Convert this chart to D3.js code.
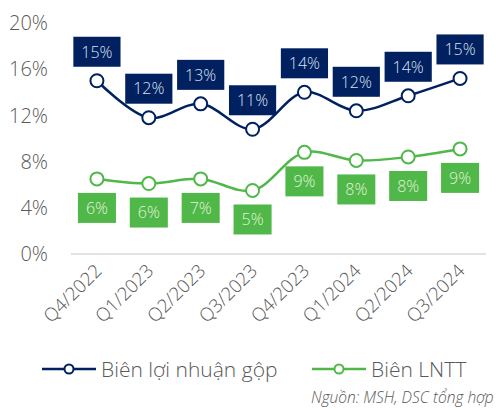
<!DOCTYPE html>
<html>
<head>
<meta charset="utf-8">
<script src="https://cdn.jsdelivr.net/npm/d3@7"></script>
<style>
  body { margin: 0; background: #fff; }
  #chart { width: 496px; height: 411px; }
  text { font-family: 'Open Sans', 'Noto Sans', sans-serif; font-weight: 300; }
</style>
</head>
<body>
<div id="chart"></div>
<script>
const quarters = ['Q4/2022', 'Q1/2023', 'Q2/2023', 'Q3/2023', 'Q4/2023', 'Q1/2024', 'Q2/2024', 'Q3/2024'];
const grossMargin = [15.0, 11.8, 13.0, 10.8, 14.0, 12.4, 13.7, 15.2];
const pretaxMargin = [6.5, 6.1, 6.5, 5.5, 8.8, 8.1, 8.4, 9.1];
const grossLabels = ['15%', '12%', '13%', '11%', '14%', '12%', '14%', '15%'];
const pretaxLabels = ['6%', '6%', '7%', '5%', '9%', '8%', '8%', '9%'];
const yTicks = [0, 4, 8, 12, 16, 20];

const series = [
  { name: 'Biên lợi nhuận gộp', values: grossMargin, labels: grossLabels, color: '#002060', textColor: '#dde2ef', above: true },
  { name: 'Biên LNTT', values: pretaxMargin, labels: pretaxLabels, color: '#50b848', textColor: '#e4f2dc', above: false }
];

const width = 496, height = 411;
const svg = d3.select('#chart').append('svg').attr('width', width).attr('height', height);

const xScale = d3.scaleBand().domain(quarters).range([71, 486]);
const yScale = d3.scaleLinear().domain([0, 20]).range([254, 23]);

// y labels
svg.append('g').selectAll('text').data(yTicks).join('text')
  .attr('x', 48)
  .attr('y', d => yScale(d))
  .attr('dy', '0.36em')
  .attr('text-anchor', 'end')
  .attr('font-size', 20)
  .attr('fill', '#595959')
  .text(d => d + '%');

// baseline
svg.append('line')
  .attr('x1', xScale.range()[0]).attr('x2', xScale.range()[1])
  .attr('y1', yScale(0)).attr('y2', yScale(0))
  .attr('stroke', '#d9d9d9').attr('stroke-width', 1.5);

// x labels rotated
svg.append('g').selectAll('text').data(quarters).join('text')
  .attr('transform', d => 'translate(' + (xScale(d) + xScale.bandwidth() / 2 + 6) + ',' + 272 + ') rotate(-45)')
  .attr('text-anchor', 'end')
  .attr('font-size', 18.5)
  .attr('fill', '#595959')
  .text(d => d);

const cx = (d, i) => xScale(quarters[i]) + xScale.bandwidth() / 2;
const line = d3.line()
  .x((d, i) => cx(d, i))
  .y(d => yScale(d))
  .curve(d3.curveCatmullRom.alpha(0.5));

series.forEach(s => {
  const g = svg.append('g');
  g.append('path')
    .attr('d', line(s.values))
    .attr('fill', 'none')
    .attr('stroke', s.color)
    .attr('stroke-width', 2.5);
  g.selectAll('circle').data(s.values).join('circle')
    .attr('cx', cx)
    .attr('cy', d => yScale(d))
    .attr('r', 6.5)
    .attr('fill', '#fff')
    .attr('stroke', s.color)
    .attr('stroke-width', 2);

  const lab = g.selectAll('g.lab').data(s.values).join('g').attr('class', 'lab');
  const boxH = 30, gap = 14;
  lab.each(function (d, i) {
    const el = d3.select(this);
    const x = cx(d, i);
    const y = yScale(d);
    const t = el.append('text')
      .attr('font-size', 16)
      .attr('fill', s.textColor)
      .attr('text-anchor', 'middle')
      .attr('dy', '0.36em')
      .text(s.labels[i]);
    const w = Math.max(t.node().getComputedTextLength() + 16, 37);
    const top = s.above ? y - gap - boxH : y + gap;
    el.insert('rect', 'text')
      .attr('x', x - w / 2).attr('y', top)
      .attr('width', w).attr('height', boxH)
      .attr('fill', s.color);
    t.attr('x', x).attr('y', top + boxH / 2);
  });
});

// legend
const legendItems = [
  { s: series[0], x: 42 },
  { s: series[1], x: 312 }
];
const lg = svg.append('g').selectAll('g').data(legendItems).join('g')
  .attr('transform', d => 'translate(' + d.x + ',' + 369 + ')');
lg.append('line').attr('x1', 0).attr('x2', 54).attr('y1', 0).attr('y2', 0)
  .attr('stroke', d => d.s.color).attr('stroke-width', 2.5);
lg.append('circle').attr('cx', 27).attr('cy', 0).attr('r', 4.5)
  .attr('fill', '#fff').attr('stroke', d => d.s.color).attr('stroke-width', 2);
lg.append('text').attr('x', 59).attr('y', 0).attr('dy', '0.36em')
  .attr('font-size', 21).attr('fill', '#595959')
  .text(d => d.s.name);

svg.append('text')
  .attr('x', 311).attr('y', 403)
  .attr('font-size', 15.5).attr('font-style', 'italic').attr('fill', '#595959')
  .text('Nguồn: MSH, DSC tổng hợp');
</script>
</body>
</html>
